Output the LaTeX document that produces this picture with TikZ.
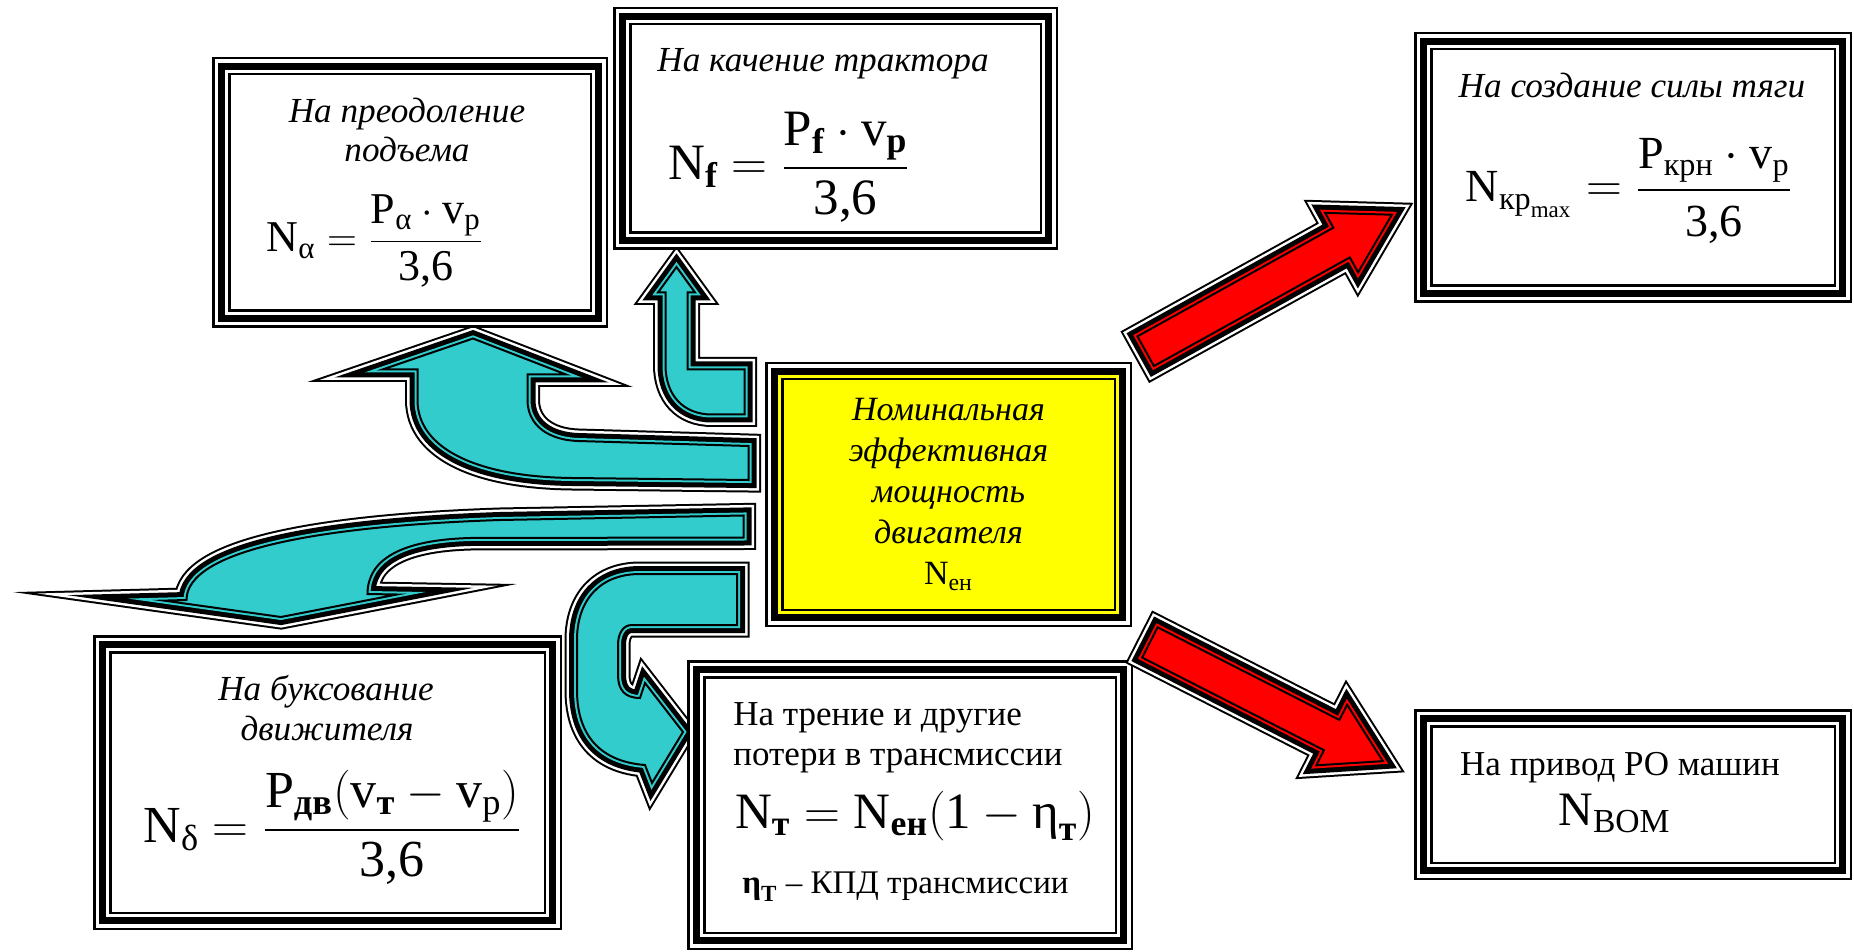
\documentclass[tikz,border=0pt]{standalone}
\usepackage{amsmath}
\usepackage{fontspec}
\setmainfont{Liberation Serif}
\usetikzlibrary{calc}
\definecolor{tealarrow}{RGB}{51,204,204}
\definecolor{redarrow}{RGB}{255,0,0}
\definecolor{yellowbox}{RGB}{255,255,0}
\newcommand{\tn}[1]{\text{\normalfont #1}}
\newcommand{\tb}[1]{\text{\normalfont\bfseries #1}}
\newcommand{\fs}[2]{\fontsize{#1}{#2}\selectfont}
\tikzset{
  block/.style={
    draw=black, line width=1.25pt, fill=#1,
    preaction={draw=black, line width=17.25pt},
    preaction={draw=white, line width=14.75pt},
    preaction={draw=black, line width=11.25pt},
    preaction={draw=#1, line width=4.25pt},
    line join=miter, inner sep=0pt, outer sep=0pt
  },
  block/.default=white,
  layer/.style={line join=miter, miter limit=30},
  bigarrow/.style={
    draw=black, line width=1pt, fill=#1,
    preaction={layer, draw=black, line width=12.5pt},
    preaction={layer, draw=white, line width=10.5pt},
    preaction={layer, draw=black, line width=8pt},
    preaction={layer, draw=#1, line width=3pt},
    layer
  },
  bigarrow/.default=tealarrow,
  heading/.style={inner sep=0pt, anchor=base, font=\fs{17.6pt}{20pt}\itshape},
  formula/.style={inner sep=0pt, anchor=base}
}

\begin{document}
\begin{tikzpicture}[x=0.5pt, y=-0.5pt]
  \fill[white] (0,0) rectangle (1854,952);
  \useasboundingbox (0,0) rectangle (1854,952);

  % cyan arrows out of the engine box
  \draw[bigarrow] (676.5,267) -- (695,292.5) -- (687.5,292.5) -- (687.5,369.5) -- (744.5,369.5)
    -- (744.5,414.5) -- (712,414.5) .. controls (683,414.5) and (665.5,395) .. (665.5,365)
    -- (665.5,292.5) -- (658,292.5) -- cycle;
  \draw[bigarrow] (473,338.5) -- (566,374.5) -- (527.5,374.5) -- (527.5,400)
    .. controls (527.5,425) and (548,440) .. (578,441) -- (748.5,446) -- (748.5,480)
    -- (572,478) .. controls (480,477) and (417.5,450) .. (417.5,400)
    -- (417.5,369.5) -- (382.5,369.5) -- cycle;
  \draw[bigarrow] (743.5,515.5) -- (500,520) .. controls (320,526) and (186.5,550) .. (186.5,600)
    -- (164,600.6) -- (281,617) -- (397,594.5) -- (367.5,594)
    .. controls (367.5,560) and (400,540) .. (470,538) -- (743.5,537.5) -- cycle;
  \draw[bigarrow] (737,574) -- (640,574) .. controls (600,574) and (577,600) .. (577,640)
    -- (577,690) .. controls (577,740) and (605,762) .. (645,765) -- (652,783) -- (683,732)
    -- (645,683) -- (640,698) .. controls (625,698) and (618,690) .. (618,675)
    -- (618,645) .. controls (618,635) and (622,625) .. (632,625) -- (737,625) -- cycle;

  % boxes
  \node[block, minimum width=180.75pt, minimum height=118.25pt] (climb) at (410,192.5) {};
  \node[block, minimum width=205.25pt, minimum height=104.25pt] (roll) at (835.5,128.5) {};
  \node[block, minimum width=201.75pt, minimum height=118.25pt] (pull) at (1633,167.5) {};
  \node[block=yellowbox, minimum width=166.25pt, minimum height=115.25pt, align=center,
    font=\fs{17pt}{20.5pt}\itshape] (engine) at (948.5,494.5)
    {Номинальная\\эффективная\\мощность\\двигателя\\$\tn{N}_{\tn{ен}}$};
  \node[block, minimum width=217.25pt, minimum height=130.25pt] (slip) at (327.5,782.5) {};
  \node[block, minimum width=205.75pt, minimum height=127.75pt] (trans) at (910,805) {};
  \node[block, minimum width=201.75pt, minimum height=68.25pt] (pto) at (1633,794.5) {};

  % red arrows
  \draw[bigarrow=redarrow, shift={($(engine.north east)+(20,-22)$)}, rotate=29]
    (12.5,-17) -- (236.5,-17) -- (236.5,-34) -- (294,0) -- (236.5,34) -- (236.5,17) -- (12.5,17) -- cycle;
  \draw[bigarrow=redarrow, shift={($(engine.south east)+(24,27)$)}, rotate=-27]
    (12.5,-17) -- (216.5,-17) -- (216.5,-34) -- (274,0) -- (216.5,34) -- (216.5,17) -- (12.5,17) -- cycle;

  % texts
  \node[heading] (climb1) at (407,123) {На преодоление};
  \node[heading] (climb2) at (407,162) {подъема};
  \node[formula, font=\fs{22pt}{26pt}] (climbN) at (375,252)
    {$\tn{N}_{\tn{α}} = \dfrac{\tn{P}_{\tn{α}}\cdot\tn{v}_{\tn{р}}}{\tn{3,6}}$};

  \node[heading] (roll1) at (823,72) {На качение трактора};
  \node[formula, font=\fs{25.5pt}{29pt}] (rollN) at (789,180)
    {$\tn{N}_{\tb{f}} = \dfrac{\tn{P}_{\tb{f}}\cdot\tn{v}_{\tb{p}}}{\tn{3,6}}$};

  \node[heading] (pull1) at (1632,98) {На создание силы тяги};
  \node[formula, font=\fs{23pt}{27pt}] (pullN) at (1629,202)
    {$\tn{N}_{\tn{кр}_{\tn{max}}} = \dfrac{\tn{P}_{\tn{крн}}\cdot\tn{v}_{\tn{р}}}{\tn{3,6}}$};

  \node[heading] (slip1) at (326,700) {На буксование};
  \node[heading] (slip2) at (327,740) {движителя};
  \node[formula, font=\fs{26pt}{30pt}] (slipN) at (332.5,842)
    {$\tn{N}_{\tn{δ}} = \dfrac{\tn{P}_{\tb{дв}}(\tn{v}_{\tb{т}} - \tn{v}_{\tn{р}})}{\tn{3,6}}$};

  \node[formula, anchor=base west, font=\fs{17.5pt}{20pt}] (trans1) at (733,725) {На трение и другие};
  \node[formula, anchor=base west, font=\fs{17.5pt}{20pt}] (trans2) at (733,765) {потери в трансмиссии};
  \node[formula, font=\fs{25.5pt}{30pt}] (transN) at (915,828)
    {$\tn{N}_{\tb{т}} = \tn{N}_{\tb{ен}}(\tn{1} - \tn{η}_{\tb{т}})$};
  \node[formula, font=\fs{16.5pt}{19pt}] (transK) at (905.5,893)
    {$\tb{η}_{\tb{Т}}$ – КПД трансмиссии};

  \node[formula, font=\fs{17.5pt}{20pt}] (pto1) at (1620,775) {На привод РО машин};
  \node[formula, font=\fs{24pt}{28pt}] (ptoN) at (1614.5,825) {$\tn{N}_{\tn{ВОМ}}$};
\end{tikzpicture}
\end{document}
